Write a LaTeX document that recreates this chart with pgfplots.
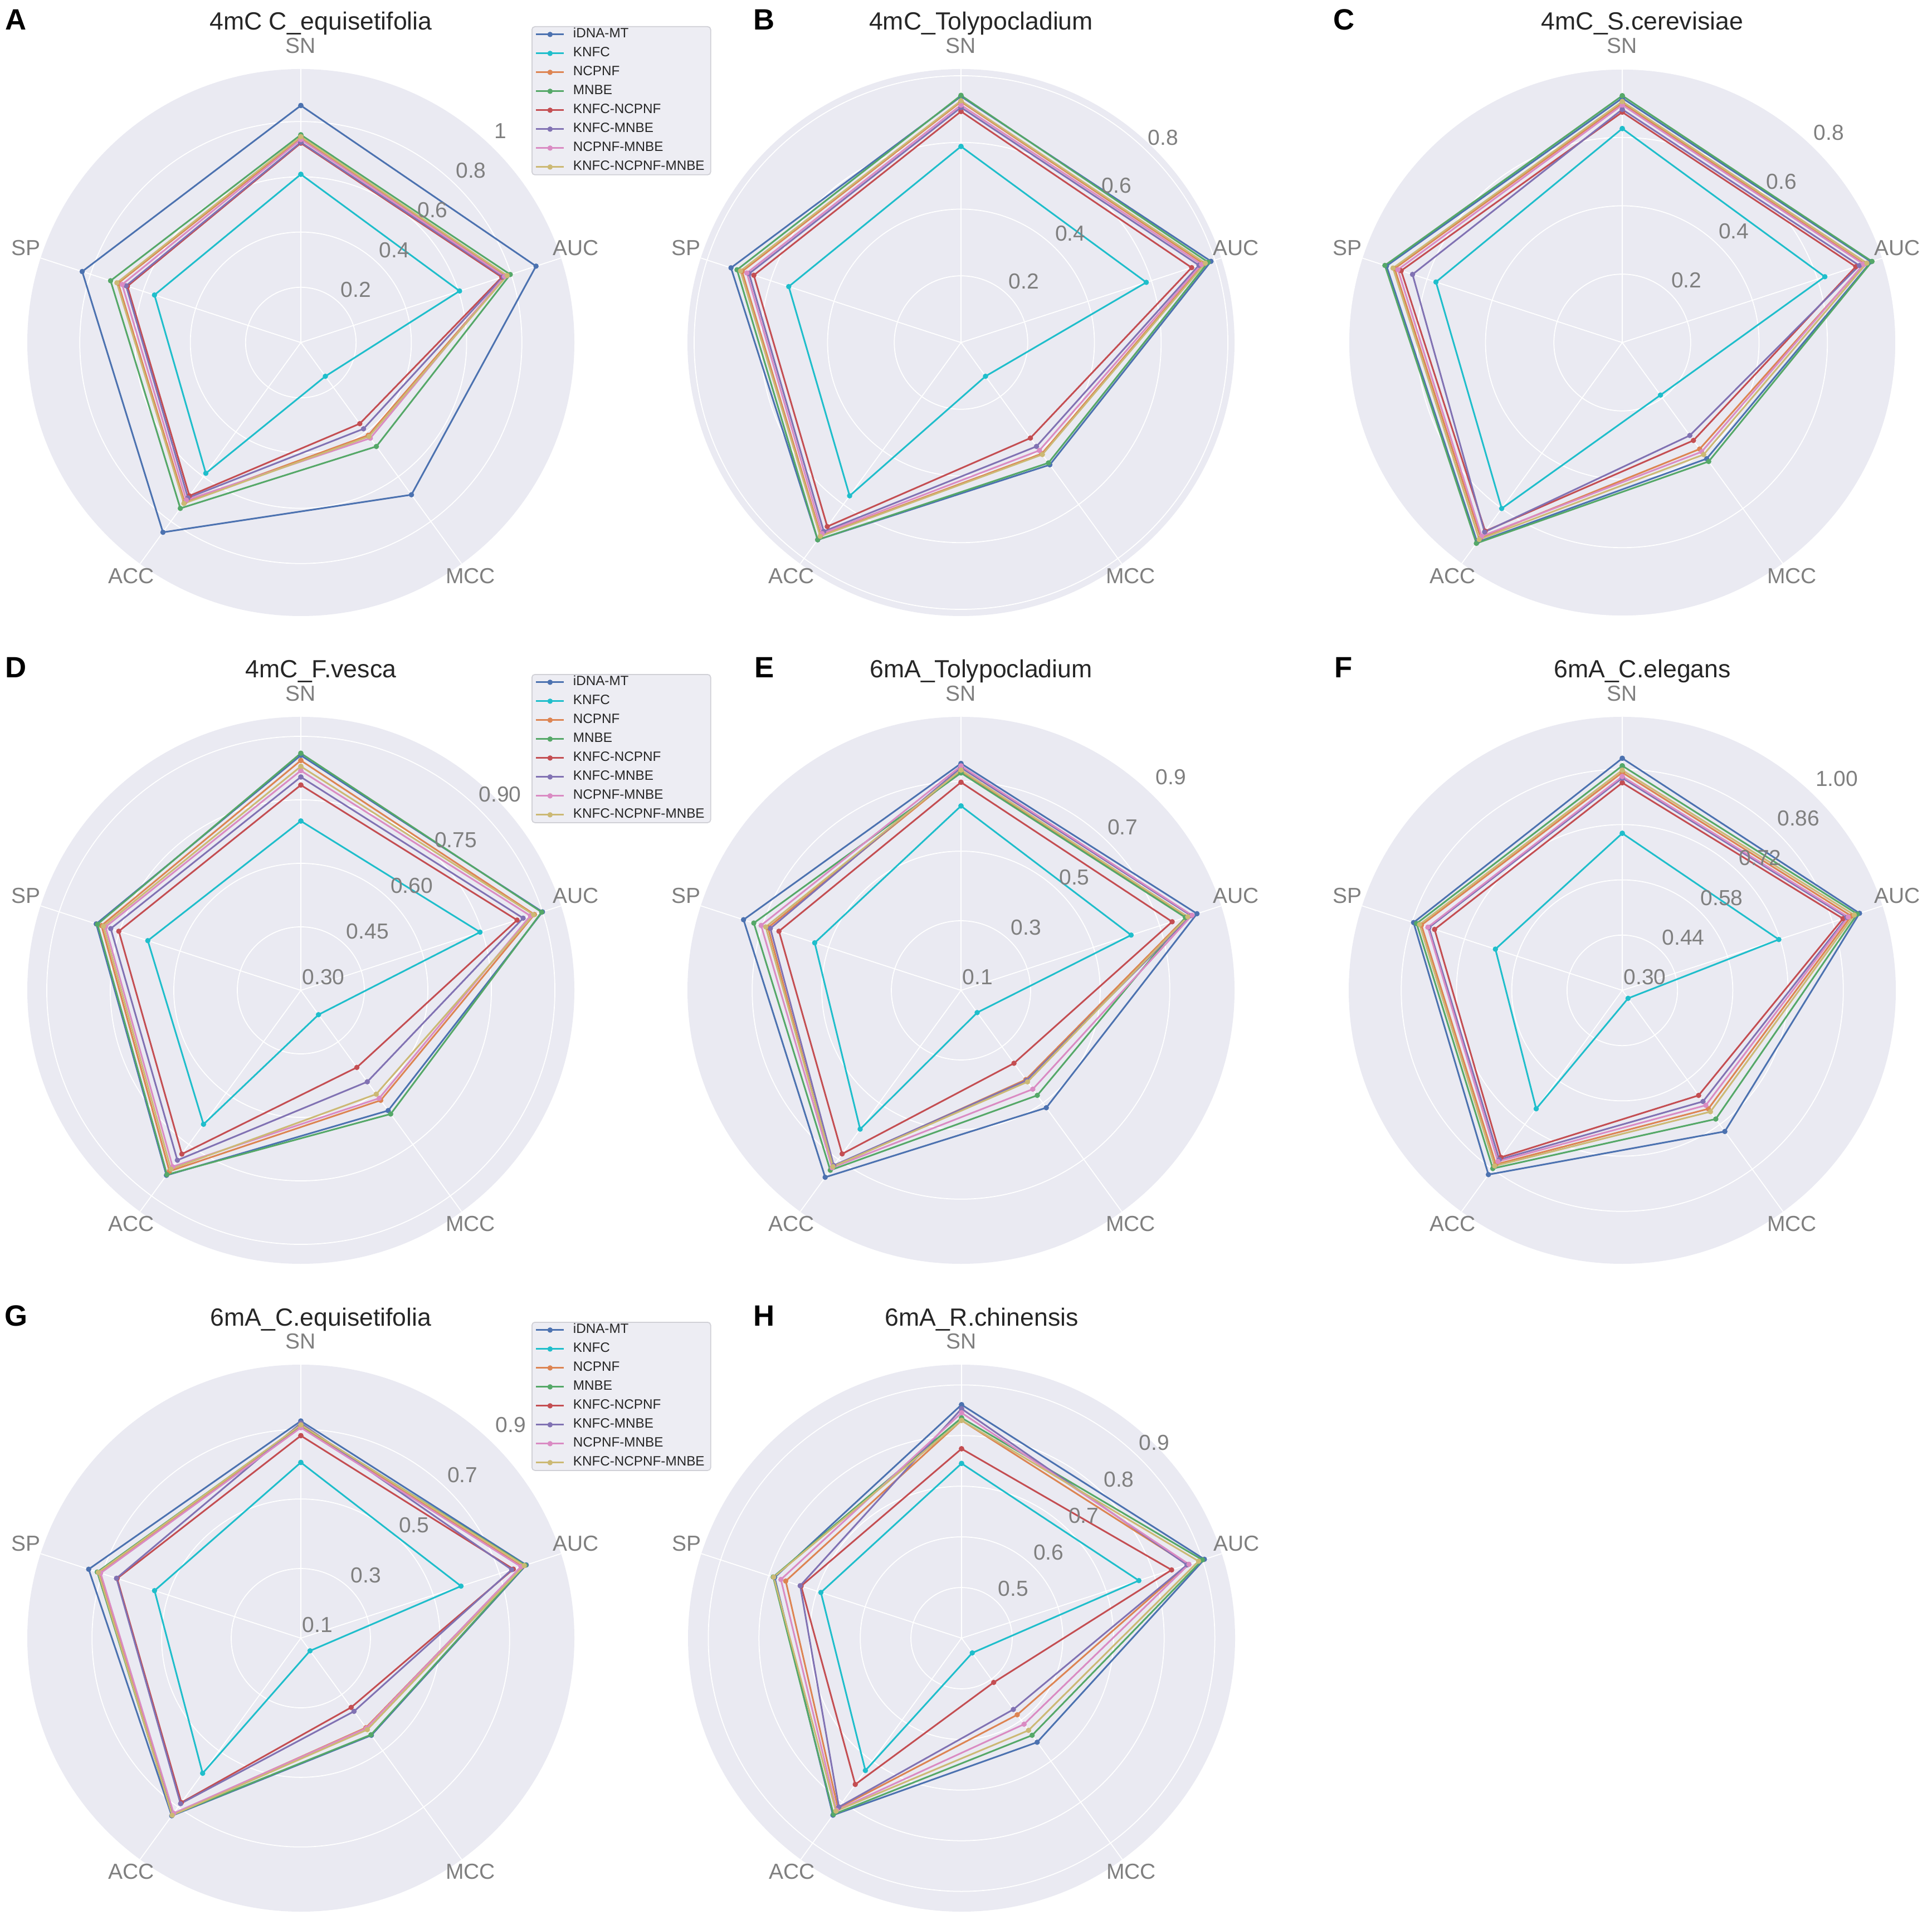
\documentclass[border=0pt]{standalone}
\usepackage{fontspec}
\setmainfont{Liberation Sans}
\usepackage{pgfplots}
\usepackage{pgfplotstable}
\pgfplotsset{compat=1.18}
\usepgfplotslibrary{polar}

\definecolor{discbg}{HTML}{EAEAF2}
\definecolor{cI}{HTML}{4C72B0}
\definecolor{cK}{HTML}{1FBECB}
\definecolor{cN}{HTML}{DD8452}
\definecolor{cM}{HTML}{55A868}
\definecolor{cKN}{HTML}{C44E52}
\definecolor{cKM}{HTML}{8172B3}
\definecolor{cNM}{HTML}{DA8BC3}
\definecolor{cKNM}{HTML}{CCB974}
\definecolor{lblgray}{HTML}{7F7F7F}
\definecolor{titlec}{HTML}{262626}
\definecolor{legbg}{HTML}{EDEDF3}
\definecolor{legedge}{HTML}{D0D0D6}

% columns: angle, then one column per method; rows SN, AUC, MCC, ACC, SP, SN
\pgfplotstableread{
ang iDNA KNFC NCPNF MNBE KN KM NM KNM
90  0.858 0.609 0.740 0.752 0.722 0.725 0.735 0.745
18  0.895 0.604 0.780 0.797 0.765 0.770 0.775 0.785
306 0.681 0.151 0.415 0.465 0.363 0.386 0.428 0.420
234 0.849 0.585 0.715 0.742 0.686 0.695 0.705 0.720
162 0.832 0.557 0.695 0.724 0.660 0.665 0.680 0.700
90  0.858 0.609 0.740 0.752 0.722 0.725 0.735 0.745
}\tabA
\pgfplotstableread{
ang iDNA KNFC NCPNF MNBE KN KM NM KNM
90  0.738 0.588 0.722 0.741 0.693 0.705 0.712 0.725
18  0.788 0.584 0.765 0.779 0.727 0.750 0.758 0.770
306 0.453 0.125 0.412 0.446 0.354 0.385 0.400 0.415
234 0.731 0.568 0.715 0.731 0.682 0.700 0.708 0.718
162 0.725 0.543 0.690 0.706 0.653 0.668 0.675 0.695
90  0.738 0.588 0.722 0.741 0.693 0.705 0.712 0.725
}\tabB
\pgfplotstableread{
ang iDNA KNFC NCPNF MNBE KN KM NM KNM
90  0.715 0.626 0.700 0.722 0.674 0.682 0.695 0.705
18  0.765 0.623 0.745 0.768 0.718 0.729 0.742 0.752
306 0.420 0.190 0.385 0.430 0.354 0.336 0.395 0.405
234 0.722 0.600 0.705 0.726 0.682 0.685 0.700 0.712
162 0.725 0.573 0.700 0.730 0.680 0.645 0.690 0.705
90  0.715 0.626 0.700 0.722 0.674 0.682 0.695 0.705
}\tabC
\pgfplotstableread{
ang iDNA KNFC NCPNF MNBE KN KM NM KNM
90  0.855 0.700 0.843 0.860 0.785 0.804 0.819 0.829
18  0.900 0.745 0.880 0.898 0.837 0.852 0.870 0.878
306 0.651 0.371 0.621 0.661 0.525 0.567 0.615 0.603
234 0.840 0.691 0.828 0.838 0.778 0.796 0.815 0.822
162 0.808 0.680 0.795 0.805 0.752 0.772 0.785 0.790
90  0.855 0.700 0.843 0.860 0.785 0.804 0.819 0.829
}\tabD
\pgfplotstableread{
ang iDNA KNFC NCPNF MNBE KN KM NM KNM
90  0.752 0.630 0.731 0.725 0.698 0.740 0.745 0.733
18  0.813 0.614 0.780 0.778 0.738 0.795 0.798 0.785
306 0.517 0.179 0.417 0.473 0.359 0.420 0.451 0.425
234 0.764 0.593 0.728 0.739 0.681 0.722 0.730 0.726
162 0.757 0.542 0.683 0.726 0.650 0.676 0.704 0.690
90  0.752 0.630 0.731 0.725 0.698 0.740 0.745 0.733
}\tabE
\pgfplotstableread{
ang iDNA KNFC NCPNF MNBE KN KM NM KNM
90  0.888 0.698 0.852 0.869 0.826 0.838 0.842 0.858
18  0.932 0.717 0.910 0.926 0.888 0.898 0.902 0.918
306 0.742 0.325 0.671 0.703 0.629 0.648 0.660 0.680
234 0.877 0.671 0.845 0.858 0.823 0.830 0.836 0.850
162 0.856 0.638 0.835 0.848 0.800 0.815 0.818 0.840
90  0.888 0.698 0.852 0.869 0.826 0.838 0.842 0.858
}\tabF
\pgfplotstableread{
ang iDNA KNFC NCPNF MNBE KN KM NM KNM
90  0.724 0.605 0.708 0.712 0.682 0.718 0.705 0.713
18  0.781 0.584 0.768 0.778 0.742 0.737 0.765 0.775
306 0.445 0.145 0.418 0.443 0.346 0.360 0.420 0.425
234 0.731 0.580 0.725 0.728 0.684 0.688 0.722 0.729
162 0.741 0.542 0.707 0.715 0.655 0.657 0.705 0.712
90  0.724 0.605 0.708 0.712 0.682 0.718 0.705 0.713
}\tabG
\pgfplotstableread{
ang iDNA KNFC NCPNF MNBE KN KM NM KNM
90  0.861 0.745 0.830 0.835 0.774 0.853 0.845 0.830
18  0.904 0.768 0.870 0.900 0.836 0.868 0.872 0.892
306 0.654 0.436 0.587 0.637 0.508 0.574 0.610 0.625
234 0.832 0.723 0.815 0.830 0.757 0.812 0.820 0.822
162 0.788 0.692 0.765 0.791 0.733 0.735 0.775 0.790
90  0.861 0.745 0.830 0.835 0.774 0.853 0.845 0.830
}\tabH

\pgfplotsset{
  radarax/.style={
    scale only axis, width=9.82cm, height=9.82cm, anchor=center,
    ymin=0, ymax=1, xmin=0, xmax=360,
    xtick={18,90,162,234,306}, xticklabels={}, yticklabels={},
    grid=major, major grid style={white, line width=0.5pt},
    axis line style={draw=none}, major tick length=0pt, tick style={draw=none},
    clip=false,
    every axis plot/.append style={line width=0.85pt, mark=*, mark size=0.9pt},
  },
  radarleg/.style={
    legend entries={iDNA-MT,KNFC,NCPNF,MNBE,KNFC-NCPNF,KNFC-MNBE,NCPNF-MNBE,KNFC-NCPNF-MNBE},
    legend cell align=left,
    legend image code/.code={\draw[mark repeat=2,mark phase=2,##1] plot coordinates {(0cm,0cm) (0.25cm,0cm) (0.5cm,0cm)};},
    legend style={at={(0.9216,1.0784)}, anchor=north west, fill=legbg, draw=legedge,
      line width=0.5pt, rounded corners=1.5pt, inner xsep=0.06cm, inner ysep=0.03cm,
      font=\fontsize{6.9}{8}\selectfont, text=titlec,
      nodes={inner xsep=0.05cm, inner ysep=0pt, text height=0.17cm, text depth=0.05cm},
      row sep=0.12cm, /tikz/every odd column/.append style={column sep=0.1cm}},
  },
}

\newcommand{\radar}[3]{%
  \addplot[cI]   table[x=ang, y expr={(\thisrow{iDNA}-#2)/#3}] {#1};
  \addplot[cK]   table[x=ang, y expr={(\thisrow{KNFC}-#2)/#3}] {#1};
  \addplot[cN]   table[x=ang, y expr={(\thisrow{NCPNF}-#2)/#3}] {#1};
  \addplot[cM]   table[x=ang, y expr={(\thisrow{MNBE}-#2)/#3}] {#1};
  \addplot[cKN]  table[x=ang, y expr={(\thisrow{KN}-#2)/#3}] {#1};
  \addplot[cKM]  table[x=ang, y expr={(\thisrow{KM}-#2)/#3}] {#1};
  \addplot[cNM]  table[x=ang, y expr={(\thisrow{NM}-#2)/#3}] {#1};
  \addplot[cKNM] table[x=ang, y expr={(\thisrow{KNM}-#2)/#3}] {#1};
}

% labels around a chart: #1 cx, #2 cy, #3 title, #4 tick list t/label
\newcommand{\decor}[4]{%
  \begin{scope}[shift={(#1,#2)}]
    \begin{scope}[every node/.style={text=lblgray, font=\fontsize{11.1}{13}\selectfont, inner sep=0pt}]
      \node at (90:5.33) {SN};
      \node at (19:5.22) {AUC};
      \node at (-54:5.18) {MCC};
      \node at (-126:5.18) {ACC};
      \node at (161:5.22) {SP};
      \foreach \t/\l in {#4} {\path (46:{\t*4.91}) ++(0.02,0.09) node[anchor=south west] {\l};}
    \end{scope}
    \node[anchor=base, text=titlec, font=\fontsize{12.7}{15}\selectfont, inner sep=0pt] at (0.36,5.61) {#3};
  \end{scope}}

\newcommand{\panel}[3]{\node[anchor=base, font=\fontsize{15}{18}\selectfont\bfseries, inner sep=0pt] at (#1,#2) {#3};}

\begin{document}
\begin{tikzpicture}[x=1cm,y=1cm]
\useasboundingbox (0,0) rectangle (34.68,34.46);
\foreach \cx/\cy in {5.40/28.31, 17.25/28.31, 29.12/28.31, 5.40/16.68, 17.25/16.68, 29.12/16.68, 5.40/5.05, 17.26/5.05}
  {\fill[discbg] (\cx,\cy) circle (4.91);}

\begin{polaraxis}[radarax, radarleg, at={(5.40cm,28.31cm)}, ytick={0.2020,0.4040,0.6061,0.8081}]
\radar{\tabA}{0}{0.99}
\end{polaraxis}
\begin{polaraxis}[radarax, at={(17.25cm,28.31cm)}, ytick={0.2439,0.4878,0.7317,0.9756}]
\radar{\tabB}{0}{0.82}
\end{polaraxis}
\begin{polaraxis}[radarax, at={(29.12cm,28.31cm)}, ytick={0.25,0.5,0.75,1.0}]
\radar{\tabC}{0}{0.80}
\end{polaraxis}
\begin{polaraxis}[radarax, radarleg, at={(5.40cm,16.68cm)}, ytick={0.2322,0.4644,0.6966,0.9288}]
\radar{\tabD}{0.30}{0.646}
\end{polaraxis}
\begin{polaraxis}[radarax, at={(17.25cm,16.68cm)}, ytick={0.2545,0.5089,0.7634}]
\radar{\tabE}{0.10}{0.786}
\end{polaraxis}
\begin{polaraxis}[radarax, at={(29.12cm,16.68cm)}, ytick={0.2020,0.4040,0.6061,0.8081}]
\radar{\tabF}{0.30}{0.693}
\end{polaraxis}
\begin{polaraxis}[radarax, radarleg, at={(5.40cm,5.05cm)}, ytick={0.2545,0.5089,0.7634}]
\radar{\tabG}{0.10}{0.786}
\end{polaraxis}
\begin{polaraxis}[radarax, at={(17.26cm,5.05cm)}, ytick={0.1852,0.3704,0.5556,0.7407,0.9259}]
\radar{\tabH}{0.40}{0.54}
\end{polaraxis}

\decor{5.40}{28.31}{4mC C\_equisetifolia}{0.2020/0.2,0.4040/0.4,0.6061/0.6,0.8081/0.8,1.0101/1}
\decor{17.25}{28.31}{4mC\_Tolypocladium}{0.2439/0.2,0.4878/0.4,0.7317/0.6,0.9756/0.8}
\decor{29.12}{28.31}{4mC\_S.cerevisiae}{0.25/0.2,0.5/0.4,0.75/0.6,1.0/0.8}
\decor{5.40}{16.68}{4mC\_F.vesca}{0/0.30,0.2322/0.45,0.4644/0.60,0.6966/0.75,0.9288/0.90}
\decor{17.25}{16.68}{6mA\_Tolypocladium}{0/0.1,0.2545/0.3,0.5089/0.5,0.7634/0.7,1.0178/0.9}
\decor{29.12}{16.68}{6mA\_C.elegans}{0/0.30,0.2020/0.44,0.4040/0.58,0.6061/0.72,0.8081/0.86,1.0101/1.00}
\decor{5.40}{5.05}{6mA\_C.equisetifolia}{0/0.1,0.2545/0.3,0.5089/0.5,0.7634/0.7,1.0178/0.9}
\decor{17.26}{5.05}{6mA\_R.chinensis}{0.1852/0.5,0.3704/0.6,0.5556/0.7,0.7407/0.8,0.9259/0.9}

\panel{0.29}{33.92}{A}
\panel{13.72}{33.92}{B}
\panel{24.12}{33.92}{C}
\panel{0.29}{22.29}{D}
\panel{13.72}{22.29}{E}
\panel{24.12}{22.29}{F}
\panel{0.29}{10.66}{G}
\panel{13.72}{10.66}{H}
\end{tikzpicture}
\end{document}
